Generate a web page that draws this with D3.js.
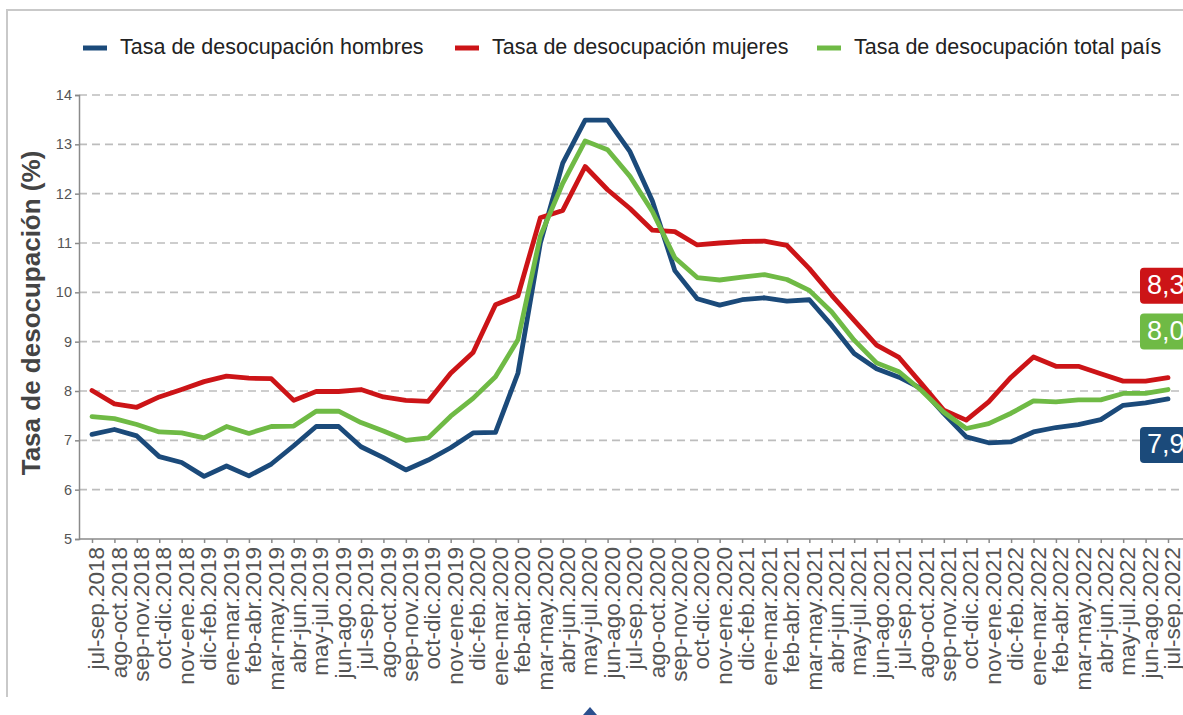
<!DOCTYPE html>
<html>
<head>
<meta charset="utf-8">
<script src="https://cdn.jsdelivr.net/npm/d3@7"></script>
<style>
  body { margin: 0; background: #fff; }
  svg { display: block; font-family: "Liberation Sans", Arial, sans-serif; }
</style>
</head>
<body>
<svg id="chart"></svg>
<script>
const periodos = [
  "jul-sep.2018", "ago-oct.2018", "sep-nov.2018", "oct-dic.2018", "nov-ene.2018",
  "dic-feb.2019", "ene-mar.2019", "feb-abr.2019", "mar-may.2019", "abr-jun.2019",
  "may-jul.2019", "jun-ago.2019", "jul-sep.2019", "ago-oct.2019", "sep-nov.2019",
  "oct-dic.2019", "nov-ene.2019", "dic-feb.2020", "ene-mar.2020", "feb-abr.2020",
  "mar-may.2020", "abr-jun.2020", "may-jul.2020", "jun-ago.2020", "jul-sep.2020",
  "ago-oct.2020", "sep-nov.2020", "oct-dic.2020", "nov-ene.2020", "dic-feb.2021",
  "ene-mar.2021", "feb-abr.2021", "mar-may.2021", "abr-jun.2021", "may-jul.2021",
  "jun-ago.2021", "jul-sep.2021", "ago-oct.2021", "sep-nov.2021", "oct-dic.2021",
  "nov-ene.2021", "dic-feb.2022", "ene-mar.2022", "feb-abr.2022", "mar-may.2022",
  "abr-jun.2022", "may-jul.2022", "jun-ago.2022", "jul-sep.2022"
];

const hombres = [
  7.12, 7.22, 7.09, 6.67, 6.55, 6.27, 6.48, 6.28, 6.52, 6.89,
  7.28, 7.28, 6.87, 6.65, 6.40, 6.60, 6.85, 7.15, 7.16, 8.36,
  11.0, 12.62, 13.49, 13.49, 12.85, 11.85, 10.44, 9.87, 9.74, 9.85,
  9.89, 9.82, 9.85, 9.33, 8.76, 8.45, 8.28, 8.05, 7.54, 7.07,
  6.95, 6.97, 7.17, 7.26, 7.32, 7.42, 7.71, 7.76, 7.84
];

const mujeres = [
  8.01, 7.74, 7.67, 7.88, 8.03, 8.19, 8.30, 8.26, 8.25, 7.81,
  7.99, 7.99, 8.03, 7.88, 7.81, 7.79, 8.36, 8.78, 9.75, 9.93,
  11.51, 11.66, 12.55, 12.08, 11.70, 11.26, 11.23, 10.96, 11.0, 11.03,
  11.04, 10.95, 10.48, 9.94, 9.43, 8.93, 8.68, 8.15, 7.61, 7.41,
  7.78, 8.28, 8.69, 8.50, 8.50, 8.35, 8.20, 8.20, 8.27
];

const total = [
  7.48, 7.44, 7.32, 7.17, 7.15, 7.05, 7.28, 7.14, 7.28, 7.29,
  7.59, 7.59, 7.36, 7.19, 7.00, 7.05, 7.49, 7.85, 8.29, 9.04,
  11.14, 12.21, 13.07, 12.89, 12.35, 11.64, 10.70, 10.30, 10.25, 10.31,
  10.36, 10.26, 10.04, 9.60, 9.03, 8.57, 8.39, 8.01, 7.57, 7.24,
  7.34, 7.55, 7.80, 7.78, 7.82, 7.82, 7.95, 7.95, 8.03
];

const nombres = [
  "Tasa de desocupación hombres",
  "Tasa de desocupación mujeres",
  "Tasa de desocupación total país"
];
const etiquetas = ["7,9", "8,3", "8,0"];
const yTicks = [5, 6, 7, 8, 9, 10, 11, 12, 13, 14];

const colores = ["#1b4a7a", "#cc1417", "#6fba45"];
// vertical shift of the end labels (repelled away from the lines)
const labelShift = [46, -92, -58];

const width = 1183, height = 715;
const svg = d3.select("#chart").attr("width", width).attr("height", height);

const series = [hombres, mujeres, total].map((vals, k) => ({
  name: nombres[k],
  color: colores[k],
  label: etiquetas[k],
  shift: labelShift[k],
  values: vals.map((v, i) => ({ p: periodos[i], v }))
}));

const x = d3.scalePoint().domain(periodos).range([92, 1168]);
const y = d3.scaleLinear().domain([5, 14]).range([539, 95]);
const axisX = 79;

// outer frame (partly cropped)
svg.append("path")
  .attr("d", "M7,697 V10 H1183")
  .attr("fill", "none")
  .attr("stroke", "#c9c9c9")
  .attr("stroke-width", 2);

// grid
svg.append("g")
  .selectAll("line")
  .data(yTicks.slice(1))
  .join("line")
  .attr("x1", axisX).attr("x2", width)
  .attr("y1", d => y(d)).attr("y2", d => y(d))
  .attr("stroke", "#bdbdbd")
  .attr("stroke-width", 1.6)
  .attr("stroke-dasharray", "8,5");

// axes
const gy = svg.append("g")
  .attr("transform", `translate(${axisX},0)`)
  .call(d3.axisLeft(y).tickValues(yTicks).tickSize(4).tickPadding(3));
gy.select(".domain").attr("stroke", "#8a8a8a").attr("stroke-width", 1.5);
gy.selectAll(".tick line").attr("stroke", "#8a8a8a").attr("stroke-width", 1.5);
gy.selectAll(".tick text")
  .attr("fill", "#555")
  .style("font-size", "14.5px");

const gx = svg.append("g")
  .attr("transform", `translate(0,${y(5)})`)
  .call(d3.axisBottom(x).tickSize(4).tickPadding(4).tickSizeOuter(0));
gx.select(".domain").attr("d", `M${axisX},0H${width}`)
  .attr("stroke", "#8a8a8a").attr("stroke-width", 1.5);
gx.selectAll(".tick line").attr("stroke", "#8a8a8a").attr("stroke-width", 1.5);
gx.selectAll(".tick text")
  .attr("fill", "#555")
  .style("font-size", "22.5px")
  .attr("text-anchor", "end")
  .attr("transform", "rotate(-90)")
  .attr("x", -8)
  .attr("y", 0)
  .attr("dy", "0.52em");

// y title
svg.append("text")
  .attr("transform", `translate(33,${(y(5) + y(14)) / 2 - 4}) rotate(-90)`)
  .attr("text-anchor", "middle")
  .attr("dominant-baseline", "middle")
  .attr("fill", "#444")
  .style("font-size", "26px")
  .style("font-weight", "bold")
  .text("Tasa de desocupación (%)");

// lines
const line = d3.line().x(d => x(d.p)).y(d => y(d.v));
svg.append("g")
  .selectAll("path")
  .data(series)
  .join("path")
  .attr("d", d => line(d.values))
  .attr("fill", "none")
  .attr("stroke", d => d.color)
  .attr("stroke-width", 4.8)
  .attr("stroke-linejoin", "round")
  .attr("stroke-linecap", "round");

// end labels
const lab = svg.append("g")
  .selectAll("g")
  .data(series)
  .join("g")
  .attr("transform", d => {
    const last = d.values[d.values.length - 1];
    return `translate(1140,${y(last.v) + d.shift})`;
  });
lab.append("rect")
  .attr("x", 0).attr("y", -18)
  .attr("width", 64).attr("height", 36)
  .attr("rx", 4)
  .attr("fill", d => d.color);
lab.append("text")
  .attr("x", 7).attr("y", 1)
  .attr("dominant-baseline", "middle")
  .attr("fill", "#fff")
  .style("font-size", "27px")
  .text(d => d.label);

// legend
const legendX = [83, 455, 817];
const leg = svg.append("g")
  .selectAll("g")
  .data(series)
  .join("g")
  .attr("transform", (d, i) => `translate(${legendX[i]},48)`);
leg.append("line")
  .attr("x1", 0).attr("x2", 24)
  .attr("stroke", d => d.color)
  .attr("stroke-width", 5);
leg.append("text")
  .attr("x", 37)
  .attr("dominant-baseline", "middle")
  .attr("fill", "#222")
  .style("font-size", "21.5px")
  .text(d => d.name);

// small marker cropped at the bottom of the picture
svg.append("path")
  .attr("d", "M583,715 L590,707 L597,715 Z")
  .attr("fill", "#2b4f8e");
</script>
</body>
</html>
